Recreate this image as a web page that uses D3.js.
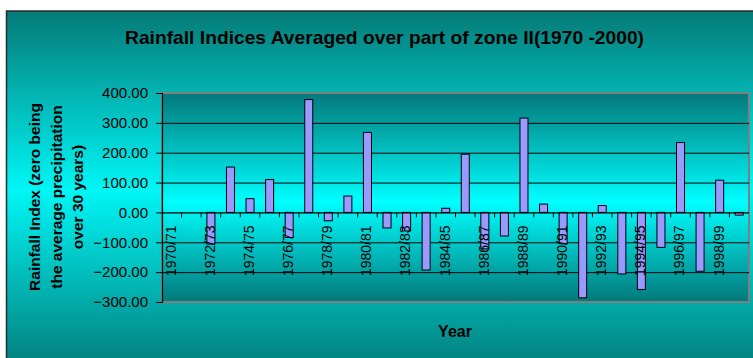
<!DOCTYPE html>
<html>
<head>
<meta charset="utf-8">
<script src="https://cdn.jsdelivr.net/npm/d3@7"></script>
<style>
  html, body { margin: 0; padding: 0; background: #ffffff; }
  svg { display: block; }
</style>
</head>
<body>
<div id="chart"></div>
<script>
// chart values
var seasons = ['1970/71', '1971/72', '1972/73', '1973/74', '1974/75', '1975/76', '1976/77', '1977/78',
    '1978/79', '1979/80', '1980/81', '1981/82', '1982/83', '1983/84', '1984/85', '1985/86', '1986/87',
    '1987/88', '1988/89', '1989/90', '1990/91', '1991/92', '1992/93', '1993/94', '1994/95', '1995/96',
    '1996/97', '1997/98', '1998/99', '1999/00'];
var rainIndex = [0, 0, -106, 152, 46, 110, -84, 378, -28, 55, 268, -52, -62, -193, 14, 195, -122,
    -79, 316, 28, -105, -286, 23, -206, -258, -117, 234, -197, 108, -9];
var yTicks = [400, 300, 200, 100, 0, -100, -200, -300];
var titleText = 'Rainfall Indices Averaged over part of zone II(1970 -2000)';
var yTitleLines = ['Rainfall Index (zero being', 'the average precipitation', 'over 30 years)'];
var xTitle = 'Year';

var W = 753, H = 358;
var margin = {top: 93, right: 4, bottom: 56, left: 162};
var width = W - margin.left - margin.right,
    height = H - margin.top - margin.bottom;

var svg = d3.select('#chart').append('svg')
    .attr('width', W)
    .attr('height', H);

var defs = svg.append('defs');

var outerGrad = defs.append('linearGradient')
    .attr('id', 'outerGrad')
    .attr('x1', 0).attr('y1', 0).attr('x2', 0).attr('y2', 1);
outerGrad.append('stop').attr('offset', '0%').attr('stop-color', '#057a77');
outerGrad.append('stop').attr('offset', '50%').attr('stop-color', '#00f6f6');
outerGrad.append('stop').attr('offset', '100%').attr('stop-color', '#037d7b');

var plotGrad = defs.append('linearGradient')
    .attr('id', 'plotGrad')
    .attr('x1', 0).attr('y1', 0).attr('x2', 0).attr('y2', 1);
plotGrad.append('stop').attr('offset', '0%').attr('stop-color', '#03787a');
plotGrad.append('stop').attr('offset', '52%').attr('stop-color', '#00ffff');
plotGrad.append('stop').attr('offset', '100%').attr('stop-color', '#03787a');

// outer frame
svg.append('rect')
    .attr('x', 6.5).attr('y', 11)
    .attr('width', W)
    .attr('height', H)
    .attr('fill', 'url(#outerGrad)')
    .attr('stroke', '#2b2b2b')
    .attr('stroke-width', 1.5);

var x = d3.scaleBand()
    .domain(seasons)
    .range([0, width])
    .padding(0);

var y = d3.scaleLinear()
    .domain([-300, 400])
    .range([height, 0]);

var g = svg.append('g')
    .attr('transform', 'translate(' + margin.left + ',' + margin.top + ')');

// plot area
g.append('rect')
    .attr('x', 0).attr('y', 0)
    .attr('width', width)
    .attr('height', height)
    .attr('fill', 'url(#plotGrad)')
    .attr('stroke', '#7f7f7f')
    .attr('stroke-width', 2);

// gridlines
g.append('g')
    .selectAll('line')
    .data(yTicks.filter(function(d) { return d != 400 && d != -300 && d != 0; }))
    .enter()
    .append('line')
        .attr('x1', 0)
        .attr('x2', width)
        .attr('y1', function(d) { return y(d) + 0.5; })
        .attr('y2', function(d) { return y(d) + 0.5; })
        .attr('stroke', '#000000')
        .attr('stroke-width', 1);

// bars (seasons with no value left out)
var barData = seasons
    .map(function(s, i) { return {season: s, value: rainIndex[i]}; })
    .filter(function(d) { return d.value != 0; });
var bw = x.bandwidth() * 0.41;
g.append('g')
    .selectAll('rect')
    .data(barData)
    .enter()
    .append('rect')
        .attr('x', function(d) { return x(d.season) + (x.bandwidth() - bw) / 2; })
        .attr('y', function(d) { return y(Math.max(0, d.value)); })
        .attr('width', bw)
        .attr('height', function(d) { return Math.abs(y(d.value) - y(0)); })
        .attr('fill', '#9999ff')
        .attr('stroke', '#000000')
        .attr('stroke-width', 1);

// y axis
var yAxis = g.append('g')
    .call(d3.axisLeft(y)
        .tickValues(yTicks)
        .tickSize(6)
        .tickFormat(function(d) { return d3.format('.2f')(d); }));
yAxis.select('.domain').attr('stroke', '#000000').attr('stroke-width', 1.2);
yAxis.selectAll('.tick line').attr('stroke', '#000000');
yAxis.selectAll('.tick text')
    .attr('x', -14)
    .attr('font-family', 'Arial, "Liberation Sans", sans-serif')
    .attr('font-size', 15)
    .attr('fill', '#000000');

// x axis on zero line
var xAxis = g.append('g')
    .attr('transform', 'translate(0,' + y(0) + ')');
xAxis.append('line')
    .attr('x1', 0).attr('x2', width)
    .attr('y1', 0.5).attr('y2', 0.5)
    .attr('stroke', '#000000')
    .attr('stroke-width', 1.2);
xAxis.selectAll('.xtick')
    .data(seasons.slice(1))
    .enter()
    .append('line')
        .attr('class', 'xtick')
        .attr('x1', function(d) { return x(d); })
        .attr('x2', function(d) { return x(d); })
        .attr('y1', 0)
        .attr('y2', 5)
        .attr('stroke', '#000000');
xAxis.selectAll('.xlabel')
    .data(seasons.filter(function(d, i) { return i % 2 == 0; }))
    .enter()
    .append('text')
        .attr('class', 'xlabel')
        .attr('transform', function(d) {
            return 'translate(' + (x(d) + x.bandwidth() / 2 - 1) + ',13) rotate(-90)';
        })
        .attr('text-anchor', 'end')
        .attr('dy', '0.35em')
        .attr('font-family', 'Arial, "Liberation Sans", sans-serif')
        .attr('font-size', 14)
        .attr('fill', '#000000')
        .text(function(d) { return d; });

// titles
svg.append('text')
    .attr('x', 384.5)
    .attr('y', 44)
    .attr('text-anchor', 'middle')
    .attr('font-family', '"Liberation Sans Narrow", Arial, "Liberation Sans", sans-serif')
    .attr('font-weight', 'bold')
    .attr('font-size', 19)
    .attr('textLength', 519)
    .attr('lengthAdjust', 'spacingAndGlyphs')
    .attr('fill', '#000000')
    .text(titleText);

svg.append('text')
    .attr('x', 455)
    .attr('y', 337)
    .attr('text-anchor', 'middle')
    .attr('font-family', '"Liberation Sans Narrow", Arial, "Liberation Sans", sans-serif')
    .attr('font-weight', 'bold')
    .attr('font-size', 16)
    .attr('fill', '#000000')
    .text(xTitle);

svg.append('g')
    .attr('transform', 'translate(35,197) rotate(-90)')
    .selectAll('text')
    .data(yTitleLines)
    .enter()
    .append('text')
        .attr('x', 0)
        .attr('y', function(d, i) { return i * 21.5; })
        .attr('dy', '0.35em')
        .attr('text-anchor', 'middle')
        .attr('font-family', 'Arial, "Liberation Sans", sans-serif')
        .attr('font-weight', 'bold')
        .attr('font-size', 15.5)
        .attr('fill', '#000000')
        .text(function(d) { return d; });
</script>
</body>
</html>
